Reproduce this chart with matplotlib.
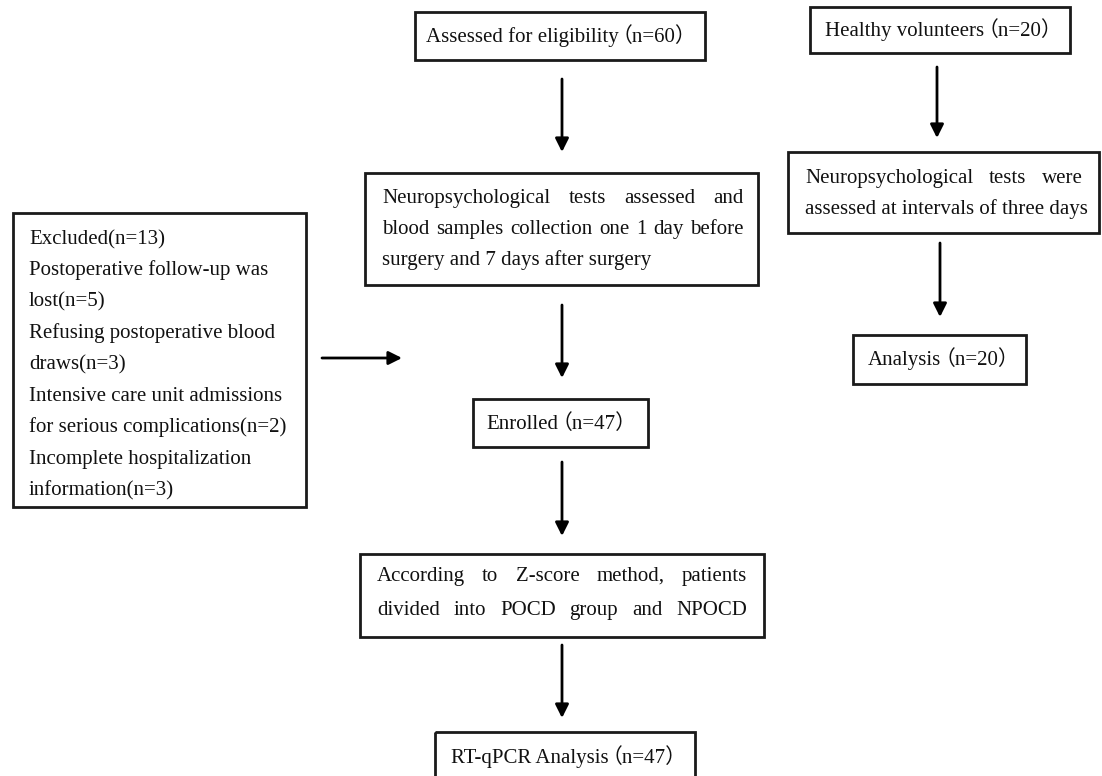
import matplotlib
matplotlib.use('Agg')
import matplotlib.pyplot as plt
from matplotlib.patches import Rectangle

plt.rcParams['font.family'] = ['Liberation Serif', 'Noto Sans CJK SC']

# flow chart texts
assessed_txt = 'Assessed for eligibility（n=60）'
healthy_txt = 'Healthy volunteers（n=20）'
neuro_lines = ['Neuropsychological tests assessed and',
               'blood samples collection one 1 day before',
               'surgery and 7 days after surgery']
healthy_neuro_lines = ['Neuropsychological tests were',
                       'assessed at intervals of three days']
excluded_lines = ['Excluded(n=13)',
                  'Postoperative follow-up was',
                  'lost(n=5)',
                  'Refusing postoperative blood',
                  'draws(n=3)',
                  'Intensive care unit admissions',
                  'for serious complications(n=2)',
                  'Incomplete hospitalization',
                  'information(n=3)']
enrolled_txt = 'Enrolled（n=47）'
analysis_txt = 'Analysis（n=20）'
zscore_lines = ['According to Z-score method, patients',
                'divided into POCD group and NPOCD']
rtqpcr_txt = 'RT-qPCR Analysis（n=47）'

FS = 15
W, H = 1102, 776
fig = plt.figure(figsize=(W/100, H/100), dpi=100)
ax = fig.add_axes([0, 0, 1, 1])
ax.set_xlim(0, W)
ax.set_ylim(H, 0)
ax.axis('off')
renderer = fig.canvas.get_renderer()


def box(x0, y0, x1, y1):
  ax.add_patch(Rectangle((x0, y0), x1-x0, y1-y0, fill=False, lw=2, ec='#1a1a1a'))


def arrow(x0, y0, x1, y1):
  ax.annotate('', xy=(x1, y1), xytext=(x0, y0),
              arrowprops=dict(arrowstyle='-|>', lw=2, color='black',
                              mutation_scale=20, shrinkA=0, shrinkB=0))


def label(x, y, s, ha='center'):
  return ax.text(x, y+6, s, ha=ha, va='baseline', fontsize=FS, color='#111111')


def label_n(x, y, s, squeeze=7):
  # full-width brackets are wide in the CJK font, pull the bracket part closer
  i = s.index('（')
  t1 = label(0, y, s[:i], ha='left')
  t2 = label(0, y, s[i:], ha='left')
  w1 = t1.get_window_extent(renderer).width
  w2 = t2.get_window_extent(renderer).width
  total = w1 + w2 - 2*squeeze
  x0 = x - total/2
  t1.set_x(x0)
  t2.set_x(x0 + w1 - squeeze)


def justify(x0, x1, y, line):
  # spread the words so the line fills x0..x1
  words = line.split()
  ts = [label(0, y, w, ha='left') for w in words]
  ws = [t.get_window_extent(renderer).width for t in ts]
  gap = (x1 - x0 - sum(ws)) / (len(words) - 1)
  x = x0
  for t, w in zip(ts, ws):
    t.set_x(x)
    x += w + gap


# top center
box(415, 12, 705, 60)
label_n(558, 36, assessed_txt)
arrow(562, 79, 562, 152)

# neuro tests box
box(365, 173, 758, 285)
justify(382, 744, 197, neuro_lines[0])
justify(382, 744, 228, neuro_lines[1])
label(382, 259, neuro_lines[2], ha='left')
arrow(562, 305, 562, 378)

# enrolled
box(473, 399, 648, 447)
label_n(558, 423, enrolled_txt)
arrow(562, 462, 562, 536)

# z-score
box(360, 554, 764, 637)
justify(377, 747, 575, zscore_lines[0])
justify(377, 747, 609, zscore_lines[1])
arrow(562, 645, 562, 718)

# RT-qPCR
box(435, 732, 695, 800)
label_n(565, 757, rtqpcr_txt)

# right column
box(810, 7, 1070, 53)
label_n(940, 30, healthy_txt)
arrow(937, 67, 937, 138)
box(788, 152, 1099, 233)
justify(805, 1083, 177, healthy_neuro_lines[0])
label(805, 208, healthy_neuro_lines[1], ha='left')
arrow(940, 243, 940, 317)
box(853, 335, 1026, 384)
label_n(940, 359, analysis_txt)

# excluded
box(13, 213, 306, 507)
for i, s in enumerate(excluded_lines):
  label(29, 238 + i*31.4, s, ha='left')
arrow(322, 358, 402, 358)

fig.savefig('out.png', dpi=100, facecolor='white')
